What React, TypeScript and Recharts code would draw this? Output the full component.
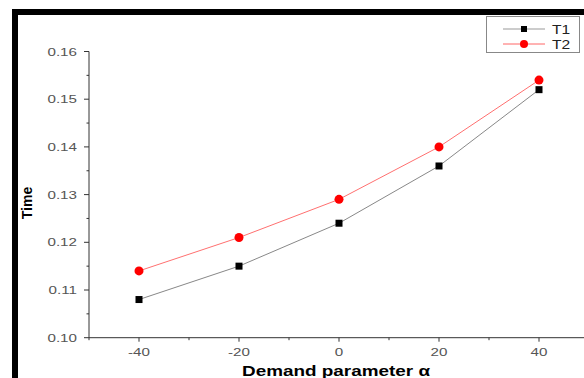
import React from 'react';
import { LineChart, Line, XAxis, YAxis, Legend } from 'recharts';

const alphaValues = [-40, -20, 0, 20, 40];
const t1Values = [0.108, 0.115, 0.124, 0.136, 0.152];
const t2Values = [0.114, 0.121, 0.129, 0.14, 0.154];

const xMajorTicks = [-40, -20, 0, 20, 40];
const xAllTicks = [-50, -40, -30, -20, -10, 0, 10, 20, 30, 40, 50];
const yMajorTicks = [0.1, 0.11, 0.12, 0.13, 0.14, 0.15, 0.16];
const yAllTicks = [0.1, 0.105, 0.11, 0.115, 0.12, 0.125, 0.13, 0.135, 0.14, 0.145, 0.15, 0.155, 0.16];

const data = alphaValues.map((a, i) => ({ alpha: a, T1: t1Values[i], T2: t2Values[i] }));

const FONT = '"Liberation Sans", Arial, sans-serif';
const AXIS_COLOR = '#333';
// the source picture is stretched sideways, so the text is too
const STRETCH = 1.38;

const XTick = (props: any) => {
  const { x, y, payload } = props;
  const major = xMajorTicks.includes(payload.value);
  return (
    <g>
      <line x1={x} x2={x} y1={y} y2={y + (major ? 4 : 2.5)} stroke={AXIS_COLOR} strokeWidth={1} />
      {major && (
        <g transform={`translate(${x}, ${y + 18}) scale(${STRETCH}, 1)`}>
          <text x={0} y={0} textAnchor="middle" fontSize={11} fill="#555" fontFamily={FONT}>
            {payload.value}
          </text>
        </g>
      )}
    </g>
  );
};

const YTick = (props: any) => {
  const { x, y, payload } = props;
  const major = yMajorTicks.some((v) => Math.abs(v - payload.value) < 1e-6);
  return (
    <g>
      <line x1={x} x2={x - (major ? 5 : 2.5)} y1={y} y2={y} stroke={AXIS_COLOR} strokeWidth={1} />
      {major && (
        <g transform={`translate(${x - 12}, ${y + 4}) scale(${STRETCH}, 1)`}>
          <text x={0} y={0} textAnchor="end" fontSize={11} fill="#555" fontFamily={FONT}>
            {payload.value.toFixed(2)}
          </text>
        </g>
      )}
    </g>
  );
};

const SquareDot = (props: any) => {
  const { cx, cy } = props;
  return <rect x={cx - 3.5} y={cy - 3.5} width={7} height={7} fill="#000" />;
};

const CircleDot = (props: any) => {
  const { cx, cy } = props;
  return <circle cx={cx} cy={cy} r={4.5} fill="#ff0000" />;
};

const LegendBox = () => (
  <svg width={94} height={37} style={{ display: 'block' }}>
    <rect x={0.5} y={0.5} width={93} height={36} fill="#fff" stroke="#888" strokeWidth={1} />
    <line x1={17} x2={59} y1={13} y2={13} stroke="#999" strokeWidth={1} />
    <rect x={35} y={10} width={6} height={6} fill="#000" />
    <g transform={`translate(66, 18) scale(1.3, 1)`}>
      <text x={0} y={0} fontSize={12} fill="#222" fontFamily={FONT}>T1</text>
    </g>
    <line x1={17} x2={59} y1={28} y2={28} stroke="#ff6666" strokeWidth={1} />
    <circle cx={38} cy={28} r={4} fill="#ff0000" />
    <g transform={`translate(66, 33) scale(1.3, 1)`}>
      <text x={0} y={0} fontSize={12} fill="#222" fontFamily={FONT}>T2</text>
    </g>
  </svg>
);

const App: React.FC = () => {
  return (
    <div style={{ position: 'absolute', left: 0, top: 0, width: 584, height: 378, overflow: 'hidden', background: '#fff' }}>
      <LineChart
        width={589}
        height={378}
        data={data}
        margin={{ top: 51.5, right: 0, bottom: 10.3, left: 29 }}
      >
        <XAxis
          dataKey="alpha"
          type="number"
          domain={[-50, 50]}
          ticks={xAllTicks}
          tickSize={0}
          tickMargin={0}
          tickLine={false}
          tick={<XTick />}
          height={30}
          stroke={AXIS_COLOR}
          interval={0}
          label={{
            content: () => (
              <text
                x={242}
                y={376}
                fontSize={15}
                fontWeight="bold"
                fill="#000"
                fontFamily={FONT}
                textLength={188}
                lengthAdjust="spacingAndGlyphs"
              >
                Demand parameter α
              </text>
            ),
          }}
        />
        <YAxis
          type="number"
          domain={[0.1, 0.16]}
          ticks={yAllTicks}
          tickSize={0}
          tickMargin={0}
          tickLine={false}
          tick={<YTick />}
          width={60}
          stroke={AXIS_COLOR}
          interval={0}
          label={{
            content: () => (
              <text
                x={32}
                y={203}
                transform="rotate(-90, 32, 203)"
                textAnchor="middle"
                fontSize={14}
                fontWeight="bold"
                fill="#000"
                fontFamily={FONT}
              >
                Time
              </text>
            ),
          }}
        />
        <Legend
          layout="horizontal"
          verticalAlign="middle"
          align="center"
          content={() => <LegendBox />}
          wrapperStyle={{ position: 'absolute', left: 486, top: 16, width: 94, height: 37 }}
        />
        <Line
          type="linear"
          dataKey="T1"
          stroke="#888"
          strokeWidth={1}
          dot={<SquareDot />}
          activeDot={false}
          isAnimationActive={false}
        />
        <Line
          type="linear"
          dataKey="T2"
          stroke="#ff7070"
          strokeWidth={1}
          dot={<CircleDot />}
          activeDot={false}
          isAnimationActive={false}
        />
      </LineChart>
      <div style={{ position: 'absolute', left: 12, top: 9, width: 572, height: 6, background: '#000' }} />
      <div style={{ position: 'absolute', left: 12, top: 9, width: 6, height: 369, background: '#000' }} />
    </div>
  );
};

export default App;
